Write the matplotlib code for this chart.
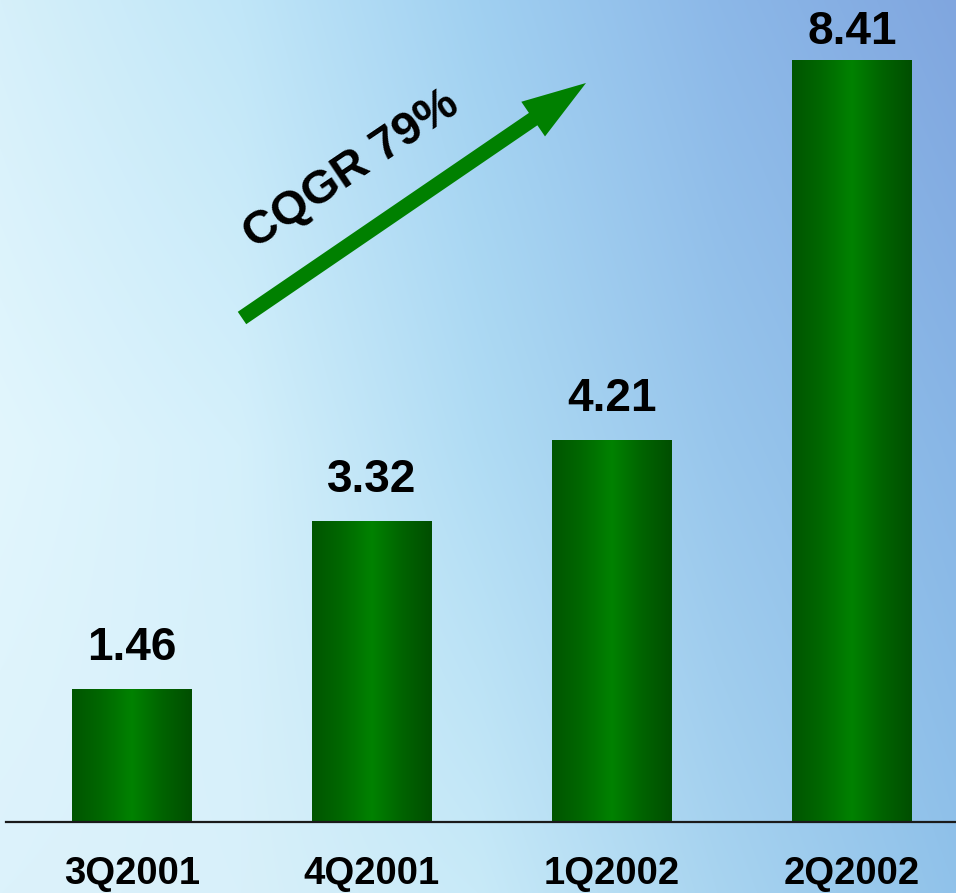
import numpy as np
import matplotlib
matplotlib.use("Agg")
import matplotlib.pyplot as plt
from matplotlib.colors import to_rgb, LinearSegmentedColormap

# Quarterly values
quarters = ["3Q2001", "4Q2001", "1Q2002", "2Q2002"]
values = [1.46, 3.32, 4.21, 8.41]
growth_label = "CQGR 79%"

W, H, DPI = 956, 893, 100
FONT = ["Liberation Sans", "DejaVu Sans"]

fig = plt.figure(figsize=(W / DPI, H / DPI), dpi=DPI)

# ---- sky background: grid of colours, blended linearly -----------------
bg = fig.add_axes([0, 0, 1, 1], zorder=0)
bg.set_axis_off()
sky = [["#d6f0fa", "#c0e6f8", "#a0d0f1", "#8cb8e8", "#80a6df"],
       ["#e2f6fd", "#d4f0fb", "#b0dcf4", "#98c6ec", "#88b6e6"],
       ["#dcf2fb", "#d8f0fa", "#c8eaf8", "#a8d4f0", "#90c2ea"]]
ctrl = np.array([[to_rgb(c) for c in row] for row in sky])  # (3, 5, 3)
gx = np.array([0, 240, 478, 717, 956])
gy = np.linspace(0, H, 3)
px = np.arange(W)
py = np.arange(H)
rows = np.stack([np.stack([np.interp(px, gx, ctrl[r, :, ch]) for ch in range(3)], -1)
                 for r in range(ctrl.shape[0])])            # (3, W, 3)
img = np.empty((H, W, 3))
for ch in range(3):
    for j in range(W):
        img[:, j, ch] = np.interp(py, gy, rows[:, j, ch])
bg.imshow(img, extent=[0, W, H, 0], aspect="auto", interpolation="bilinear")
bg.set_xlim(0, W)
bg.set_ylim(H, 0)

# ---- bar chart ---------------------------------------------------------
px_per_unit = 90.5
base_px = 822
left_px = 6
spacing_px = 240
first_center_px = 132

ax = fig.add_axes([left_px / W, (H - base_px) / H, 1 - left_px / W, base_px / H], zorder=1)
ax.patch.set_alpha(0)
x = np.arange(len(quarters))
ax.set_xlim(-(first_center_px - left_px) / spacing_px,
            (W - first_center_px) / spacing_px)
ax.set_ylim(0, base_px / px_per_unit)

bar_w = 0.5
green = LinearSegmentedColormap.from_list(
    "bar_green", ["#005500", "#006800", "#008200", "#006400", "#004e00"])
grad = np.linspace(0, 1, 256)[None, :]
bars = ax.bar(x, values, width=bar_w, color="none", edgecolor="none")
for rect, val in zip(bars, values):
    x0 = rect.get_x()
    ax.imshow(grad, cmap=green, extent=[x0, x0 + rect.get_width(), 0, val],
              aspect="auto", interpolation="bilinear", zorder=2)

# value labels above the bars (top one kept inside the figure)
label_gap_px = [30, 30, 30, 17]
for xi, val, gap in zip(x, values, label_gap_px):
    ax.annotate(f"{val:.2f}", xy=(xi, val), xytext=(0, gap * 72 / DPI),
                textcoords="offset points", ha="center", va="baseline",
                fontsize=33, fontweight="bold", family=FONT, color="black",
                zorder=3)

ax.set_xticks(x, quarters)
ax.tick_params(axis="x", length=0, pad=62 * 72 / DPI)
for lab in ax.get_xticklabels():
    lab.set_fontsize(27.5)
    lab.set_fontweight("bold")
    lab.set_family(FONT)
    lab.set_verticalalignment("baseline")
ax.set_yticks([])
for side in ("left", "right", "top"):
    ax.spines[side].set_visible(False)
ax.spines["bottom"].set_color("#1a1a1a")
ax.spines["bottom"].set_linewidth(1.6)

# ---- growth arrow ------------------------------------------------------
ov = fig.add_axes([0, 0, 1, 1], zorder=2)
ov.set_axis_off()
ov.patch.set_alpha(0)
ov.set_xlim(0, W)
ov.set_ylim(H, 0)
tail = (242, 318)
tip = (586, 83)
ov.arrow(tail[0], tail[1], tip[0] - tail[0], tip[1] - tail[1],
         width=15, head_width=42, head_length=64, length_includes_head=True,
         color="#008000", linewidth=0)
ov.text(352, 170, growth_label, rotation=34, rotation_mode="anchor",
        ha="center", va="center", fontsize=34, fontweight="bold",
        family=FONT, color="black")

fig.savefig("out.png", dpi=DPI)
